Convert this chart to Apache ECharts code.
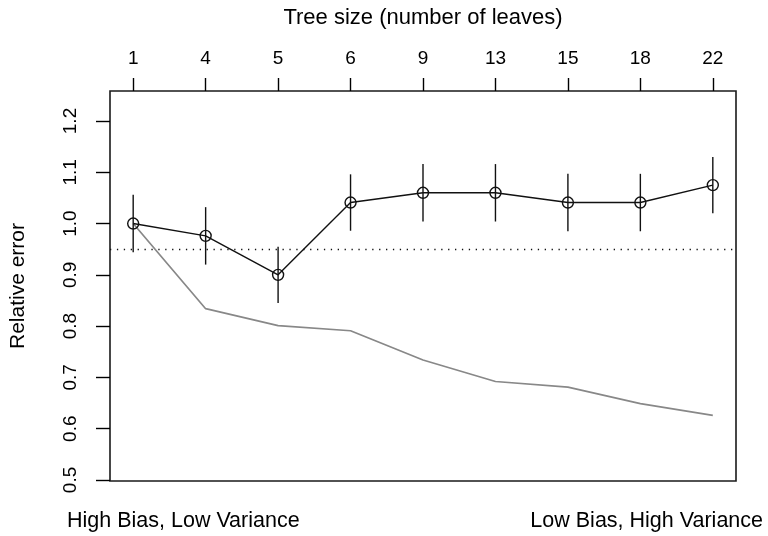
<!DOCTYPE html>
<html>
<head>
<meta charset="utf-8">
<script src="https://cdn.jsdelivr.net/npm/echarts@6/dist/echarts.min.js"></script>
<style>html,body{margin:0;padding:0;background:#fff}#c{width:768px;height:536px}</style>
</head>
<body>
<div id="c"></div>
<script>
var treeSizes = ['1', '4', '5', '6', '9', '13', '15', '18', '22'];
var cvError = [1.0, 0.976, 0.90, 1.041, 1.060, 1.060, 1.041, 1.041, 1.075];
var cvStd = [0.056, 0.056, 0.055, 0.055, 0.056, 0.056, 0.056, 0.056, 0.055];
var trainError = [1.0, 0.834, 0.801, 0.791, 0.734, 0.692, 0.681, 0.649, 0.626];
var threshold = 0.955;
var yTicks = [0.5, 0.6, 0.7, 0.8, 0.9, 1.0, 1.1, 1.2];

var idx = treeSizes.map(function (s, i) { return i; });
var FONT = 'Liberation Sans';

var chart = echarts.init(document.getElementById('c'), null, {renderer: 'canvas'});
chart.setOption({
  animation: false,
  backgroundColor: '#fff',
  grid: {left: 109, top: 91, right: 32, bottom: 55, show: true, borderColor: '#1a1a1a', borderWidth: 1.6, backgroundColor: 'transparent'},
  xAxis: {
    type: 'value', position: 'top', min: -0.32, max: 8.32,
    name: 'Tree size (number of leaves)', nameLocation: 'middle', nameGap: 62,
    nameTextStyle: {fontFamily: FONT, fontSize: 22, color: '#000'},
    axisLine: {show: false, onZero: false},
    splitLine: {show: false},
    axisTick: {show: true, customValues: idx, length: 13, lineStyle: {color: '#000', width: 1.4}},
    axisLabel: {customValues: idx, formatter: function (v) { return treeSizes[Math.round(v)]; }, fontFamily: FONT, fontSize: 19, color: '#000', margin: 23}
  },
  yAxis: {
    type: 'value', min: 0.498, max: 1.2585,
    name: 'Relative error', nameLocation: 'middle', nameGap: 81,
    nameTextStyle: {fontFamily: FONT, fontSize: 21, color: '#000'},
    axisLine: {show: false, onZero: false},
    splitLine: {show: false},
    axisTick: {show: true, customValues: yTicks, length: 14, lineStyle: {color: '#000', width: 1.4}},
    axisLabel: {customValues: yTicks, rotate: 90, formatter: function (v) { return v.toFixed(1); }, fontFamily: FONT, fontSize: 19, color: '#000', margin: 30}
  },
  series: [
    {
      type: 'line', data: idx.map(function (i) { return [i, trainError[i]]; }),
      symbol: 'none', lineStyle: {color: '#888888', width: 1.7}, z: 2
    },
    {
      type: 'custom', z: 3,
      data: idx.map(function (i) { return [i, cvError[i] - cvStd[i], cvError[i] + cvStd[i]]; }),
      renderItem: function (params, api) {
        var p1 = api.coord([api.value(0), api.value(1)]);
        var p2 = api.coord([api.value(0), api.value(2)]);
        return {type: 'line', shape: {x1: p1[0], y1: p1[1], x2: p2[0], y2: p2[1]}, style: {stroke: '#111', lineWidth: 1.4}};
      }
    },
    {
      type: 'line', z: 4, data: idx.map(function (i) { return [i, cvError[i]]; }),
      symbol: 'circle', symbolSize: 11,
      itemStyle: {color: 'rgba(0,0,0,0)', borderColor: '#111', borderWidth: 1.4},
      lineStyle: {color: '#111', width: 1.4},
      markLine: {
        silent: true, symbol: 'none', label: {show: false},
        lineStyle: {color: '#111', width: 1.3, type: [1.3, 5.6]},
        data: [{yAxis: threshold}]
      }
    }
  ],
  graphic: [
    {type: 'text', left: 67, top: 510, style: {text: 'High Bias, Low Variance', font: '21.5px "Liberation Sans"', fill: '#000'}},
    {type: 'text', right: 5, top: 510, style: {text: 'Low Bias, High Variance', font: '21.5px "Liberation Sans"', fill: '#000'}}
  ]
});
</script>
</body>
</html>
